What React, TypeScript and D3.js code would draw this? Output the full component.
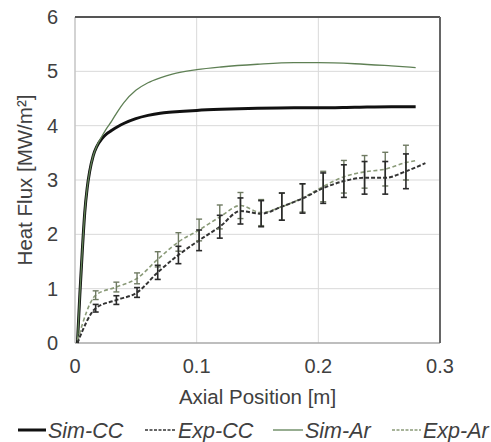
import React from "react";
import * as d3 from "d3";

const xTicks = [0, 0.1, 0.2, 0.3];
const yTicks = [0, 1, 2, 3, 4, 5, 6];

const simX = [0.002, 0.004, 0.006, 0.008, 0.010, 0.012, 0.015, 0.018, 0.022, 0.026, 0.030, 0.035, 0.040, 0.050, 0.060, 0.070, 0.080, 0.100, 0.120, 0.150, 0.180, 0.200, 0.230, 0.260, 0.280];
const simCC = [0, 0.9, 1.7, 2.4, 2.85, 3.15, 3.45, 3.62, 3.76, 3.85, 3.91, 3.98, 4.04, 4.13, 4.19, 4.23, 4.25, 4.28, 4.30, 4.32, 4.33, 4.33, 4.34, 4.35, 4.35];
const simAr = [0, 0.9, 1.7, 2.4, 2.85, 3.15, 3.45, 3.63, 3.8, 3.95, 4.08, 4.26, 4.42, 4.65, 4.79, 4.88, 4.95, 5.03, 5.08, 5.13, 5.16, 5.16, 5.14, 5.1, 5.07];

const expX = [0.017, 0.034, 0.051, 0.068, 0.085, 0.102, 0.119, 0.136, 0.153, 0.170, 0.187, 0.204, 0.221, 0.238, 0.255, 0.272];
const expCC = [0.64, 0.79, 0.93, 1.30, 1.62, 1.89, 2.14, 2.43, 2.38, 2.51, 2.66, 2.85, 2.98, 3.04, 3.04, 3.16];
const expAr = [0.88, 1.03, 1.19, 1.54, 1.86, 2.08, 2.32, 2.53, 2.40, 2.51, 2.67, 2.88, 3.06, 3.15, 3.20, 3.32];
const errCC = [0.07, 0.08, 0.09, 0.13, 0.16, 0.19, 0.21, 0.24, 0.24, 0.25, 0.27, 0.28, 0.30, 0.30, 0.30, 0.32];
const errAr = [0.08, 0.09, 0.1, 0.14, 0.17, 0.2, 0.22, 0.24, 0.24, 0.25, 0.26, 0.28, 0.3, 0.3, 0.31, 0.32];
const expStartX = 0.002;
const expStartCC = 0;
const expStartAr = 0.05;
const expEndXCC = 0.288;
const expEndCC = 3.31;
const expEndXAr = 0.281;
const expEndAr = 3.36;

const legendItems = ["Sim-CC", "Exp-CC", "Sim-Ar", "Exp-Ar"];

const W = 491, H = 442;
const L = 75, R = 440, T = 17, B = 343;
const FONT = "'Liberation Sans', Arial, sans-serif";
const TXT = "#404040";

export default function App() {
  const x = d3.scaleLinear().domain([0, 0.3]).range([L, R]);
  const y = d3.scaleLinear().domain([0, 6]).range([B, T]);
  const line = d3.line<[number, number]>().x(d => x(d[0])).y(d => y(d[1])).curve(d3.curveMonotoneX);

  const simCCPts = simX.map((v, i) => [v, simCC[i]] as [number, number]);
  const simArPts = simX.map((v, i) => [v, simAr[i]] as [number, number]);
  const expCCPts: [number, number][] = [[expStartX, expStartCC], ...expX.map((v, i) => [v, expCC[i]] as [number, number]), [expEndXCC, expEndCC]];
  const expArPts: [number, number][] = [[expStartX, expStartAr], ...expX.map((v, i) => [v, expAr[i]] as [number, number]), [expEndXAr, expEndAr]];

  const colCC = "#111";
  const colSimAr = "#5f8055";
  const colExpAr = "#8a9a78";
  const colExpCC = "#333";

  const errBars = (vals: number[], errs: number[], color: string, w: number, key: string) =>
    expX.map((xv, i) => {
      const cx = x(xv);
      const y1 = y(vals[i] + errs[i]);
      const y2 = y(vals[i] - errs[i]);
      return (
        <g key={key + i} stroke={color} strokeWidth={w}>
          <line x1={cx} x2={cx} y1={y1} y2={y2} />
          <line x1={cx - 3} x2={cx + 3} y1={y1} y2={y1} />
          <line x1={cx - 3} x2={cx + 3} y1={y2} y2={y2} />
        </g>
      );
    });

  const legendX = [18, 145, 273, 392];
  const legendLineW = [28, 31, 30, 29];

  return (
    <svg width={W} height={H} style={{ position: "absolute", left: 0, top: 0, background: "#fff" }}>
      <rect x={0} y={0} width={W} height={H} fill="#fff" />
      {yTicks.slice(1, -1).map(t => (
        <line key={"gy" + t} x1={L} x2={R} y1={y(t)} y2={y(t)} stroke="#d9d9d9" strokeWidth={1} />
      ))}
      {xTicks.slice(1, -1).map(t => (
        <line key={"gx" + t} x1={x(t)} x2={x(t)} y1={T} y2={B} stroke="#d9d9d9" strokeWidth={1} />
      ))}
      <line x1={L} x2={L} y1={T} y2={B} stroke="#c4c4c4" strokeWidth={1.5} />
      <line x1={L} x2={R} y1={B} y2={B} stroke="#a8a8a8" strokeWidth={1.5} />
      <line x1={L} x2={R} y1={T} y2={T} stroke="#555" strokeWidth={2} />
      <line x1={R} x2={R} y1={T} y2={B} stroke="#666" strokeWidth={2} />

      <path d={line(simCCPts) || ""} fill="none" stroke={colCC} strokeWidth={3} />
      <path d={line(simArPts) || ""} fill="none" stroke={colSimAr} strokeWidth={1.3} />

      <path d={line(expArPts) || ""} fill="none" stroke={colExpAr} strokeWidth={1.6} strokeDasharray="4,2.5" />
      <path d={line(expCCPts) || ""} fill="none" stroke={colExpCC} strokeWidth={2} strokeDasharray="4,2" />
      {errBars(expAr, errAr, "#6f7a62", 1.4, "ea")}
      {errBars(expCC, errCC, "#2a2a2a", 1.6, "ec")}

      {yTicks.map(t => (
        <text key={"yt" + t} x={58} y={y(t)} dy="0.35em" textAnchor="end" fontFamily={FONT} fontSize={20} fill={TXT}>{t}</text>
      ))}
      {xTicks.map(t => (
        <text key={"xt" + t} x={x(t)} y={373} textAnchor="middle" fontFamily={FONT} fontSize={20} fill={TXT}>{t}</text>
      ))}
      <text x={(L + R) / 2} y={404} textAnchor="middle" fontFamily={FONT} fontSize={20.5} fill={TXT}>Axial Position [m]</text>
      <text transform={`translate(32,${(T + B) / 2}) rotate(-90)`} textAnchor="middle" fontFamily={FONT} fontSize={20.5} fill={TXT}>Heat Flux [MW/m²]</text>

      {legendItems.map((name, i) => {
        const lx = legendX[i];
        const lw = legendLineW[i];
        const ly = 430;
        const style = i === 0 ? { stroke: colCC, sw: 3, dash: undefined }
          : i === 1 ? { stroke: colExpCC, sw: 1.5, dash: "3,1.5" }
          : i === 2 ? { stroke: colSimAr, sw: 1.3, dash: undefined }
          : { stroke: colExpAr, sw: 1.3, dash: "3,1.5" };
        return (
          <g key={name}>
            <line x1={lx} x2={lx + lw} y1={ly} y2={ly} stroke={style.stroke} strokeWidth={style.sw} strokeDasharray={style.dash} />
            <text x={lx + lw + 2} y={ly + 7.5} fontFamily={FONT} fontStyle="italic" fontSize={21.5} fill={TXT}>{name}</text>
          </g>
        );
      })}
    </svg>
  );
}
